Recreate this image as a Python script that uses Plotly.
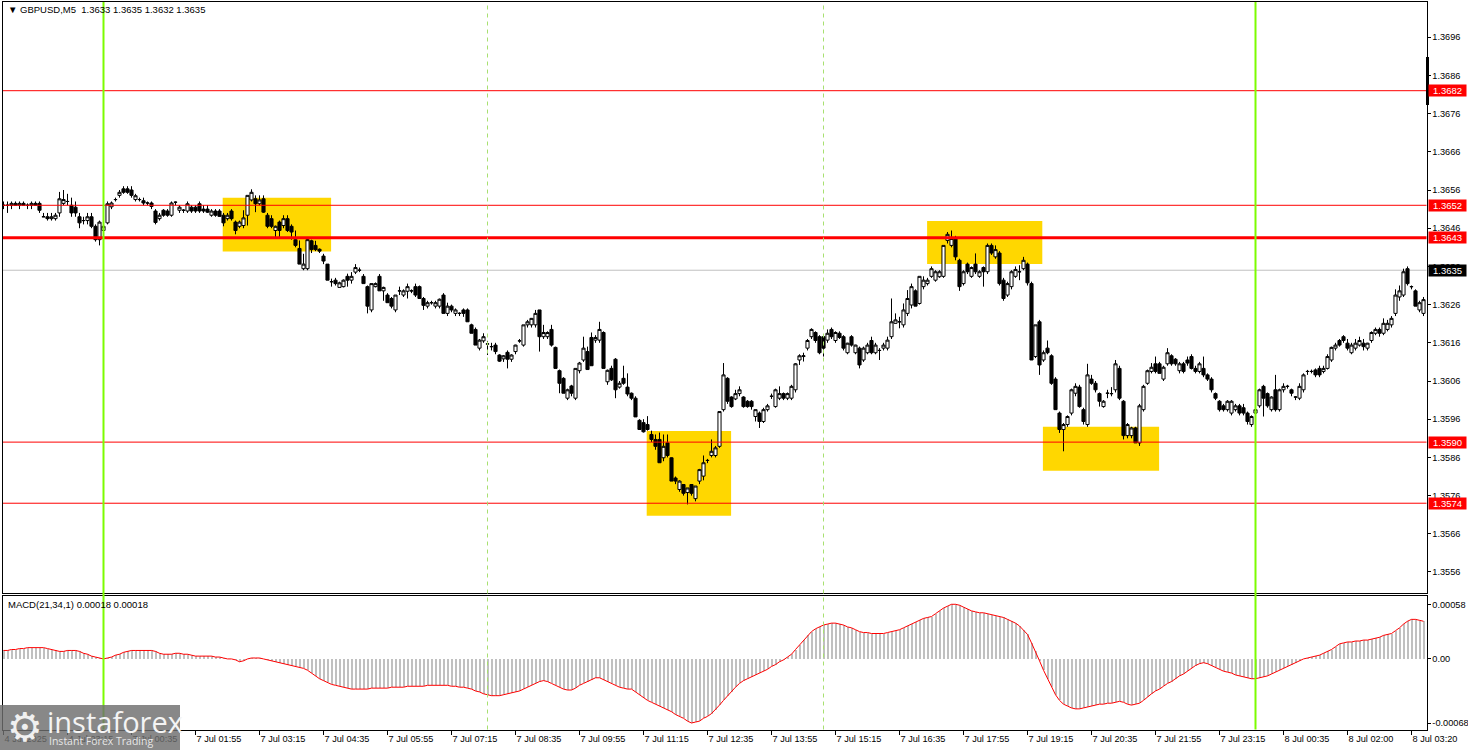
import plotly.graph_objects as go

# ---------------- data (GBPUSD M5, bar 0 = 4 Jul 21:55) ----------------
opens = [
    1.36520, 1.36520, 1.36520, 1.36525, 1.36520, 1.36525, 1.36520, 1.36520, 1.36525, 1.36525,
    1.36490, 1.36490, 1.36485, 1.36485, 1.36500, 1.36525, 1.36530, 1.36520, 1.36515, 1.36490,
    1.36480, 1.36480, 1.36490, 1.36465, 1.36430, 1.36454, 1.36474, 1.36516, 1.36535, 1.36546,
    1.36563, 1.36563, 1.36560, 1.36535, 1.36535, 1.36532, 1.36526, 1.36526, 1.36505, 1.36485,
    1.36507, 1.36505, 1.36494, 1.36528, 1.36507, 1.36507, 1.36505, 1.36515, 1.36515, 1.36524,
    1.36510, 1.36510, 1.36494, 1.36505, 1.36505, 1.36494, 1.36485, 1.36505, 1.36476, 1.36465,
    1.36467, 1.36494, 1.36534, 1.36537, 1.36524, 1.36537, 1.36494, 1.36485, 1.36454, 1.36476,
    1.36467, 1.36485, 1.36465, 1.36430, 1.36407, 1.36354, 1.36354, 1.36427, 1.36415, 1.36405,
    1.36387, 1.36366, 1.36320, 1.36324, 1.36305, 1.36307, 1.36334, 1.36324, 1.36345, 1.36350,
    1.36334, 1.36307, 1.36246, 1.36307, 1.36334, 1.36296, 1.36285, 1.36276, 1.36246, 1.36296,
    1.36285, 1.36295, 1.36296, 1.36307, 1.36307, 1.36276, 1.36256, 1.36265, 1.36256, 1.36256,
    1.36285, 1.36237, 1.36256, 1.36237, 1.36237, 1.36246, 1.36246, 1.36207, 1.36195, 1.36146,
    1.36165, 1.36157, 1.36150, 1.36154, 1.36128, 1.36118, 1.36135, 1.36117, 1.36137, 1.36165,
    1.36154, 1.36207, 1.36207, 1.36207, 1.36246, 1.36176, 1.36176, 1.36195, 1.36148, 1.36087,
    1.36067, 1.36015, 1.36047, 1.36015, 1.36087, 1.36115, 1.36137, 1.36174, 1.36167, 1.36167,
    1.36187, 1.36058, 1.36093, 1.36117, 1.36044, 1.36067, 1.36044, 1.36028, 1.36015, 1.35957,
    1.35951, 1.35946, 1.35920, 1.35907, 1.35907, 1.35859, 1.35898, 1.35859, 1.35806, 1.35776,
    1.35789, 1.35768, 1.35789, 1.35752, 1.35798, 1.35811, 1.35852, 1.35865, 1.35865, 1.35889,
    1.35985, 1.36067, 1.36018, 1.36013, 1.36027, 1.36018, 1.36007, 1.36007, 1.35967, 1.35976,
    1.35954, 1.35985, 1.36020, 1.35993, 1.36015, 1.36027, 1.36015, 1.36015, 1.36037, 1.36115,
    1.36124, 1.36146, 1.36176, 1.36187, 1.36176, 1.36176, 1.36167, 1.36195, 1.36166, 1.36185,
    1.36176, 1.36134, 1.36176, 1.36134, 1.36146, 1.36115, 1.36134, 1.36166, 1.36134, 1.36140,
    1.36146, 1.36146, 1.36176, 1.36211, 1.36215, 1.36207, 1.36237, 1.36259, 1.36296, 1.36263,
    1.36307, 1.36315, 1.36334, 1.36324, 1.36333, 1.36334, 1.36428, 1.36415, 1.36433, 1.36376,
    1.36315, 1.36366, 1.36334, 1.36366, 1.36334, 1.36357, 1.36346, 1.36415, 1.36385, 1.36395,
    1.36324, 1.36285, 1.36307, 1.36334, 1.36346, 1.36354, 1.36366, 1.36315, 1.36124, 1.36215,
    1.36115, 1.36146, 1.36126, 1.36065, 1.35976, 1.35933, 1.35946, 1.35976, 1.36028, 1.36044,
    1.35985, 1.35946, 1.36065, 1.36054, 1.36027, 1.35993, 1.36028, 1.36027, 1.36037, 1.36093,
    1.36007, 1.35917, 1.35917, 1.35937, 1.35898, 1.35985, 1.36054, 1.36085, 1.36105, 1.36105,
    1.36065, 1.36105, 1.36126, 1.36117, 1.36087, 1.36105, 1.36115, 1.36124, 1.36093, 1.36085,
    1.36093, 1.36076, 1.36065, 1.36027, 1.36007, 1.35995, 1.35985, 1.35976, 1.35985, 1.35995,
    1.35990, 1.35976, 1.35946, 1.35976, 1.35995, 1.36046, 1.36027, 1.35985, 1.36037, 1.35985,
    1.36037, 1.36046, 1.36037, 1.36018, 1.36015, 1.36037, 1.36085, 1.36085, 1.36089, 1.36093,
    1.36085, 1.36093, 1.36115, 1.36146, 1.36166, 1.36176, 1.36159, 1.36134, 1.36146, 1.36154,
    1.36159, 1.36146, 1.36166, 1.36185, 1.36195, 1.36185, 1.36195, 1.36207, 1.36237, 1.36280,
    1.36285, 1.36354, 1.36307, 1.36296, 1.36246, 1.36237,
]
highs = [
    1.36530, 1.36530, 1.36530, 1.36530, 1.36530, 1.36530, 1.36525, 1.36530, 1.36530, 1.36530,
    1.36500, 1.36500, 1.36500, 1.36500, 1.36555, 1.36560, 1.36550, 1.36540, 1.36530, 1.36500,
    1.36490, 1.36500, 1.36500, 1.36470, 1.36480, 1.36470, 1.36530, 1.36530, 1.36540, 1.36560,
    1.36570, 1.36570, 1.36570, 1.36550, 1.36540, 1.36540, 1.36530, 1.36530, 1.36510, 1.36500,
    1.36510, 1.36510, 1.36530, 1.36530, 1.36520, 1.36510, 1.36530, 1.36520, 1.36520, 1.36530,
    1.36520, 1.36520, 1.36510, 1.36510, 1.36510, 1.36500, 1.36500, 1.36510, 1.36480, 1.36480,
    1.36507, 1.36546, 1.36562, 1.36546, 1.36546, 1.36546, 1.36500, 1.36494, 1.36467, 1.36480,
    1.36494, 1.36494, 1.36470, 1.36454, 1.36428, 1.36393, 1.36437, 1.36430, 1.36427, 1.36407,
    1.36393, 1.36366, 1.36328, 1.36330, 1.36320, 1.36326, 1.36341, 1.36345, 1.36366, 1.36357,
    1.36340, 1.36310, 1.36315, 1.36318, 1.36340, 1.36307, 1.36290, 1.36280, 1.36285, 1.36307,
    1.36300, 1.36315, 1.36300, 1.36315, 1.36310, 1.36280, 1.36270, 1.36270, 1.36270, 1.36276,
    1.36290, 1.36265, 1.36260, 1.36250, 1.36240, 1.36250, 1.36250, 1.36210, 1.36200, 1.36170,
    1.36185, 1.36165, 1.36160, 1.36160, 1.36130, 1.36128, 1.36140, 1.36130, 1.36155, 1.36170,
    1.36207, 1.36220, 1.36225, 1.36246, 1.36246, 1.36207, 1.36190, 1.36207, 1.36150, 1.36090,
    1.36070, 1.36040, 1.36050, 1.36093, 1.36110, 1.36176, 1.36150, 1.36187, 1.36180, 1.36215,
    1.36190, 1.36090, 1.36100, 1.36120, 1.36060, 1.36100, 1.36080, 1.36030, 1.36020, 1.35960,
    1.35960, 1.35968, 1.35930, 1.35920, 1.35925, 1.35920, 1.35920, 1.35860, 1.35810, 1.35800,
    1.35790, 1.35780, 1.35790, 1.35785, 1.35830, 1.35865, 1.35856, 1.35907, 1.35890, 1.35980,
    1.36107, 1.36070, 1.36020, 1.36037, 1.36046, 1.36020, 1.36010, 1.36010, 1.35985, 1.35980,
    1.35990, 1.36000, 1.36027, 1.36040, 1.36046, 1.36030, 1.36030, 1.36050, 1.36107, 1.36130,
    1.36134, 1.36170, 1.36198, 1.36190, 1.36180, 1.36180, 1.36195, 1.36200, 1.36190, 1.36190,
    1.36180, 1.36160, 1.36180, 1.36155, 1.36150, 1.36150, 1.36160, 1.36176, 1.36160, 1.36146,
    1.36160, 1.36176, 1.36276, 1.36237, 1.36228, 1.36263, 1.36298, 1.36315, 1.36300, 1.36334,
    1.36334, 1.36330, 1.36360, 1.36350, 1.36350, 1.36415, 1.36450, 1.36454, 1.36440, 1.36380,
    1.36350, 1.36370, 1.36360, 1.36394, 1.36350, 1.36360, 1.36420, 1.36420, 1.36415, 1.36400,
    1.36330, 1.36320, 1.36350, 1.36360, 1.36363, 1.36385, 1.36370, 1.36320, 1.36207, 1.36220,
    1.36140, 1.36166, 1.36130, 1.36070, 1.35980, 1.35950, 1.35970, 1.36040, 1.36054, 1.36050,
    1.35990, 1.36105, 1.36076, 1.36060, 1.36030, 1.36010, 1.36037, 1.36044, 1.36115, 1.36100,
    1.36010, 1.35950, 1.35940, 1.35940, 1.36000, 1.36050, 1.36090, 1.36107, 1.36124, 1.36110,
    1.36100, 1.36146, 1.36130, 1.36120, 1.36110, 1.36110, 1.36124, 1.36130, 1.36100, 1.36110,
    1.36124, 1.36080, 1.36070, 1.36030, 1.36010, 1.36000, 1.36010, 1.36010, 1.36000, 1.36000,
    1.36000, 1.35980, 1.35970, 1.35990, 1.36040, 1.36050, 1.36030, 1.36020, 1.36076, 1.36040,
    1.36054, 1.36050, 1.36040, 1.36020, 1.36054, 1.36080, 1.36089, 1.36090, 1.36093, 1.36100,
    1.36100, 1.36130, 1.36150, 1.36160, 1.36170, 1.36180, 1.36170, 1.36160, 1.36170, 1.36176,
    1.36170, 1.36160, 1.36190, 1.36200, 1.36200, 1.36224, 1.36220, 1.36230, 1.36300, 1.36310,
    1.36354, 1.36360, 1.36310, 1.36300, 1.36270, 1.36280,
]
lows = [
    1.36510, 1.36500, 1.36510, 1.36520, 1.36510, 1.36520, 1.36510, 1.36510, 1.36520, 1.36500,
    1.36490, 1.36480, 1.36480, 1.36480, 1.36490, 1.36520, 1.36520, 1.36490, 1.36490, 1.36460,
    1.36470, 1.36470, 1.36460, 1.36425, 1.36415, 1.36450, 1.36470, 1.36510, 1.36530, 1.36540,
    1.36550, 1.36550, 1.36540, 1.36530, 1.36530, 1.36520, 1.36520, 1.36510, 1.36470, 1.36480,
    1.36490, 1.36490, 1.36490, 1.36520, 1.36500, 1.36500, 1.36500, 1.36500, 1.36500, 1.36500,
    1.36500, 1.36500, 1.36490, 1.36490, 1.36490, 1.36465, 1.36480, 1.36480, 1.36444, 1.36460,
    1.36460, 1.36467, 1.36530, 1.36502, 1.36520, 1.36500, 1.36460, 1.36460, 1.36433, 1.36433,
    1.36460, 1.36450, 1.36430, 1.36410, 1.36366, 1.36350, 1.36350, 1.36395, 1.36400, 1.36395,
    1.36366, 1.36324, 1.36307, 1.36310, 1.36305, 1.36305, 1.36307, 1.36315, 1.36340, 1.36345,
    1.36315, 1.36237, 1.36240, 1.36305, 1.36296, 1.36270, 1.36265, 1.36250, 1.36240, 1.36285,
    1.36280, 1.36276, 1.36290, 1.36280, 1.36276, 1.36246, 1.36250, 1.36260, 1.36250, 1.36250,
    1.36237, 1.36230, 1.36240, 1.36230, 1.36230, 1.36228, 1.36215, 1.36185, 1.36154, 1.36140,
    1.36160, 1.36128, 1.36140, 1.36130, 1.36110, 1.36110, 1.36093, 1.36110, 1.36130, 1.36160,
    1.36150, 1.36200, 1.36200, 1.36200, 1.36137, 1.36170, 1.36170, 1.36150, 1.36093, 1.36028,
    1.36028, 1.36010, 1.36020, 1.36010, 1.36080, 1.36110, 1.36090, 1.36100, 1.36160, 1.36160,
    1.36093, 1.36050, 1.36060, 1.36015, 1.36040, 1.36050, 1.36020, 1.36010, 1.35966, 1.35933,
    1.35925, 1.35930, 1.35900, 1.35880, 1.35846, 1.35850, 1.35860, 1.35798, 1.35790, 1.35770,
    1.35760, 1.35737, 1.35760, 1.35745, 1.35790, 1.35800, 1.35845, 1.35860, 1.35860, 1.35885,
    1.35980, 1.36000, 1.35990, 1.36010, 1.36020, 1.35990, 1.35990, 1.35985, 1.35954, 1.35937,
    1.35950, 1.35980, 1.36013, 1.35990, 1.36010, 1.36010, 1.36010, 1.36010, 1.36030, 1.36102,
    1.36111, 1.36140, 1.36170, 1.36160, 1.36130, 1.36124, 1.36160, 1.36170, 1.36160, 1.36170,
    1.36140, 1.36130, 1.36150, 1.36130, 1.36093, 1.36110, 1.36130, 1.36130, 1.36130, 1.36115,
    1.36140, 1.36140, 1.36170, 1.36210, 1.36198, 1.36200, 1.36230, 1.36250, 1.36256, 1.36260,
    1.36300, 1.36310, 1.36330, 1.36320, 1.36330, 1.36330, 1.36420, 1.36410, 1.36376, 1.36296,
    1.36310, 1.36340, 1.36330, 1.36340, 1.36330, 1.36307, 1.36340, 1.36390, 1.36380, 1.36310,
    1.36270, 1.36280, 1.36300, 1.36330, 1.36324, 1.36350, 1.36310, 1.36115, 1.36120, 1.36076,
    1.36110, 1.36130, 1.36050, 1.35985, 1.35924, 1.35876, 1.35940, 1.35970, 1.36020, 1.35990,
    1.35946, 1.35940, 1.36050, 1.36030, 1.35993, 1.35990, 1.36015, 1.36020, 1.36030, 1.36010,
    1.35907, 1.35910, 1.35910, 1.35898, 1.35890, 1.35980, 1.36050, 1.36080, 1.36080, 1.36080,
    1.36060, 1.36100, 1.36100, 1.36100, 1.36080, 1.36080, 1.36100, 1.36090, 1.36080, 1.36080,
    1.36070, 1.36060, 1.36030, 1.36010, 1.35980, 1.35980, 1.35980, 1.35970, 1.35980, 1.35970,
    1.35970, 1.35946, 1.35940, 1.35970, 1.35990, 1.35967, 1.35990, 1.35980, 1.35980, 1.35980,
    1.36030, 1.36040, 1.36020, 1.36010, 1.36010, 1.36030, 1.36076, 1.36080, 1.36070, 1.36070,
    1.36080, 1.36090, 1.36110, 1.36140, 1.36150, 1.36160, 1.36140, 1.36130, 1.36140, 1.36150,
    1.36140, 1.36140, 1.36160, 1.36180, 1.36176, 1.36180, 1.36190, 1.36200, 1.36230, 1.36270,
    1.36280, 1.36310, 1.36300, 1.36256, 1.36240, 1.36230,
]
closes = [
    1.36520, 1.36520, 1.36525, 1.36520, 1.36525, 1.36520, 1.36520, 1.36525, 1.36520, 1.36507,
    1.36490, 1.36485, 1.36490, 1.36494, 1.36537, 1.36535, 1.36530, 1.36500, 1.36500, 1.36474,
    1.36480, 1.36490, 1.36465, 1.36430, 1.36476, 1.36465, 1.36524, 1.36526, 1.36535, 1.36554,
    1.36554, 1.36554, 1.36546, 1.36545, 1.36535, 1.36526, 1.36526, 1.36517, 1.36475, 1.36494,
    1.36494, 1.36494, 1.36526, 1.36528, 1.36515, 1.36507, 1.36524, 1.36505, 1.36505, 1.36505,
    1.36505, 1.36502, 1.36505, 1.36494, 1.36491, 1.36474, 1.36494, 1.36485, 1.36454, 1.36476,
    1.36487, 1.36546, 1.36554, 1.36524, 1.36534, 1.36502, 1.36465, 1.36465, 1.36465, 1.36454,
    1.36485, 1.36454, 1.36450, 1.36415, 1.36366, 1.36366, 1.36430, 1.36404, 1.36404, 1.36400,
    1.36374, 1.36324, 1.36320, 1.36315, 1.36317, 1.36324, 1.36324, 1.36334, 1.36357, 1.36350,
    1.36315, 1.36256, 1.36315, 1.36315, 1.36296, 1.36305, 1.36265, 1.36256, 1.36285, 1.36296,
    1.36296, 1.36307, 1.36296, 1.36285, 1.36276, 1.36258, 1.36265, 1.36265, 1.36265, 1.36274,
    1.36237, 1.36256, 1.36246, 1.36246, 1.36237, 1.36237, 1.36215, 1.36185, 1.36154, 1.36167,
    1.36176, 1.36157, 1.36150, 1.36137, 1.36112, 1.36126, 1.36117, 1.36128, 1.36154, 1.36165,
    1.36207, 1.36215, 1.36224, 1.36237, 1.36176, 1.36187, 1.36187, 1.36154, 1.36093, 1.36054,
    1.36028, 1.36037, 1.36028, 1.36093, 1.36107, 1.36146, 1.36090, 1.36100, 1.36174, 1.36195,
    1.36093, 1.36088, 1.36063, 1.36037, 1.36054, 1.36054, 1.36026, 1.36015, 1.35966, 1.35933,
    1.35927, 1.35933, 1.35907, 1.35889, 1.35846, 1.35889, 1.35865, 1.35798, 1.35798, 1.35798,
    1.35766, 1.35780, 1.35766, 1.35785, 1.35828, 1.35846, 1.35852, 1.35876, 1.35885, 1.35980,
    1.36076, 1.36007, 1.35993, 1.36027, 1.36037, 1.35993, 1.35993, 1.35993, 1.35985, 1.35954,
    1.35985, 1.35995, 1.36020, 1.36037, 1.36027, 1.36015, 1.36027, 1.36046, 1.36105, 1.36126,
    1.36126, 1.36166, 1.36195, 1.36166, 1.36134, 1.36146, 1.36185, 1.36176, 1.36187, 1.36174,
    1.36146, 1.36159, 1.36154, 1.36154, 1.36102, 1.36146, 1.36154, 1.36134, 1.36154, 1.36140,
    1.36154, 1.36167, 1.36215, 1.36220, 1.36215, 1.36246, 1.36276, 1.36307, 1.36256, 1.36334,
    1.36324, 1.36324, 1.36354, 1.36346, 1.36346, 1.36415, 1.36444, 1.36433, 1.36385, 1.36307,
    1.36346, 1.36346, 1.36357, 1.36346, 1.36346, 1.36346, 1.36415, 1.36395, 1.36404, 1.36315,
    1.36276, 1.36315, 1.36346, 1.36352, 1.36346, 1.36376, 1.36317, 1.36115, 1.36207, 1.36102,
    1.36134, 1.36134, 1.36054, 1.35985, 1.35933, 1.35946, 1.35967, 1.36037, 1.36046, 1.35993,
    1.35954, 1.36076, 1.36054, 1.36037, 1.36007, 1.36007, 1.36028, 1.36027, 1.36105, 1.36015,
    1.35917, 1.35946, 1.35937, 1.35898, 1.35995, 1.36046, 1.36087, 1.36096, 1.36085, 1.36080,
    1.36096, 1.36134, 1.36105, 1.36105, 1.36105, 1.36085, 1.36107, 1.36093, 1.36085, 1.36105,
    1.36076, 1.36065, 1.36037, 1.36015, 1.35985, 1.35985, 1.36007, 1.36007, 1.35995, 1.35976,
    1.35976, 1.35954, 1.35967, 1.35985, 1.36037, 1.36015, 1.35995, 1.36018, 1.35985, 1.36037,
    1.36046, 1.36046, 1.36028, 1.36018, 1.36046, 1.36076, 1.36085, 1.36085, 1.36076, 1.36076,
    1.36093, 1.36124, 1.36148, 1.36154, 1.36154, 1.36166, 1.36146, 1.36154, 1.36159, 1.36166,
    1.36150, 1.36159, 1.36187, 1.36195, 1.36185, 1.36211, 1.36211, 1.36224, 1.36285, 1.36296,
    1.36346, 1.36315, 1.36307, 1.36256, 1.36265, 1.36273,
]
# MACD(21,34,1) main line, in points (1 point = 0.00001)
macd_points = [
    9, 9, 10, 10, 11, 11, 12, 12, 12, 12,
    12, 11, 10, 9, 8, 8, 9, 9, 9, 8,
    6, 5, 3, 2, 1, 0, 1, 2, 4, 5,
    7, 8, 9, 9, 9, 9, 9, 9, 8, 6,
    5, 5, 5, 6, 6, 5, 5, 4, 3, 3,
    3, 3, 3, 2, 2, 1, 0, 0, -1, -3,
    -2, 0, 1, 1, 1, 0, -1, -2, -3, -4,
    -5, -6, -7, -8, -9, -10, -12, -15, -18, -21,
    -23, -25, -27, -28, -29, -30, -31, -32, -32, -32,
    -32, -32, -31, -31, -31, -31, -31, -30, -30, -30,
    -30, -29, -29, -29, -29, -29, -28, -28, -28, -28,
    -28, -28, -29, -29, -30, -30, -31, -32, -34, -35,
    -37, -38, -39, -39, -39, -38, -37, -36, -35, -34,
    -32, -30, -28, -26, -24, -23, -24, -26, -28, -30,
    -32, -33, -33, -31, -28, -26, -24, -22, -20, -20,
    -22, -24, -26, -28, -30, -31, -32, -32, -35, -38,
    -41, -44, -46, -48, -50, -52, -54, -56, -59, -61,
    -63, -66, -68, -67, -66, -63, -61, -58, -54, -49,
    -44, -39, -35, -30, -26, -23, -21, -19, -17, -15,
    -13, -11, -8, -6, -3, -1, 2, 5, 10, 15,
    20, 25, 29, 32, 34, 36, 37, 38, 38, 37,
    36, 34, 33, 31, 29, 28, 28, 27, 27, 27,
    27, 28, 29, 30, 31, 33, 35, 37, 39, 41,
    43, 44, 45, 48, 51, 54, 56, 58, 58, 57,
    55, 53, 51, 50, 49, 49, 48, 47, 46, 45,
    44, 42, 40, 38, 35, 31, 26, 17, 8, -2,
    -12, -21, -30, -38, -44, -48, -50, -52, -53, -53,
    -52, -51, -50, -49, -48, -48, -47, -47, -46, -45,
    -46, -48, -49, -48, -47, -44, -40, -37, -34, -32,
    -29, -26, -24, -21, -18, -16, -13, -10, -7, -5,
    -4, -5, -7, -9, -11, -13, -14, -15, -17, -18,
    -19, -20, -21, -21, -20, -19, -18, -16, -14, -12,
    -10, -8, -6, -4, -2, 0, 1, 2, 3, 4,
    6, 8, 10, 13, 16, 17, 18, 18, 19, 19,
    20, 20, 21, 22, 23, 25, 26, 27, 30, 33,
    37, 40, 42, 42, 41, 40,
]
macd = [p / 100000 for p in macd_points]

tick_bars = list(range(0, 353, 16))
tick_labels = [
    "4 Jul 2025", "4 Jul 23:15", "7 Jul 00:35", "7 Jul 01:55", "7 Jul 03:15",
    "7 Jul 04:35", "7 Jul 05:55", "7 Jul 07:15", "7 Jul 08:35", "7 Jul 09:55",
    "7 Jul 11:15", "7 Jul 12:35", "7 Jul 13:55", "7 Jul 15:15", "7 Jul 16:35",
    "7 Jul 17:55", "7 Jul 19:15", "7 Jul 20:35", "7 Jul 21:55", "7 Jul 23:15",
    "8 Jul 00:35", "8 Jul 02:00", "8 Jul 03:20",
]
price_ticks = [1.3556, 1.3566, 1.3576, 1.3586, 1.3596, 1.3606, 1.3616,
               1.3626, 1.3636, 1.3646, 1.3656, 1.3666, 1.3676, 1.3686, 1.3696]
macd_ticks = [0.00058, 0.0, -0.00068]
macd_tick_labels = ["0.00058", "0.00", "-0.00068"]

thin_levels = [1.3682, 1.3652, 1.3590, 1.3574]
thick_level = 1.36435
thick_level_label = "1.3643"
current_price = 1.3635

# zones: (first bar, last bar, top price, bottom price)
zones = [
    (54.8, 81.9, 1.36540, 1.36399),
    (160.8, 181.9, 1.35929, 1.35707),
    (230.9, 259.7, 1.36479, 1.36366),
    (259.85, 288.9, 1.35940, 1.35825),
]
day_lines = [25, 313]          # 7 Jul 00:00, 8 Jul 00:00
session_lines = [121, 205]     # 7 Jul 08:00, 7 Jul 15:00

assert len(opens) == len(highs) == len(lows) == len(closes) == len(macd_points) == 356, (
    len(opens), len(highs), len(lows), len(closes), len(macd_points))

# ---------------- layout geometry ----------------
W, H = 1468, 750
FONT = "Liberation Sans, Arial, sans-serif"
TICK_FONT = dict(family=FONT, size=9.2, color="black")


def fx(px):
    return px / W


def fy(py):
    return 1 - py / H


X0, X1 = 3, 1426.5
MAIN_T, MAIN_B = 2, 593
SUB_T, SUB_B = 596, 729.5
bars = list(range(len(closes)))
xr = [(X0 - 3.5) / 4, (X1 - 3.5) / 4]

fig = go.Figure()
fig.add_trace(go.Candlestick(
    x=bars, open=opens, high=highs, low=lows, close=closes,
    increasing=dict(line=dict(color="black", width=1), fillcolor="white"),
    decreasing=dict(line=dict(color="black", width=1), fillcolor="black"),
    whiskerwidth=0, showlegend=False, hoverinfo="skip", xaxis="x", yaxis="y",
))
fig.add_trace(go.Bar(
    x=bars, y=macd, width=0.5, marker=dict(color="#C0C0C0", line=dict(width=0)),
    showlegend=False, hoverinfo="skip", xaxis="x2", yaxis="y2",
))
fig.add_trace(go.Scatter(
    x=bars, y=macd, mode="lines", line=dict(color="#FF0000", width=1),
    showlegend=False, hoverinfo="skip", xaxis="x2", yaxis="y2",
))

shapes = []
for b0, b1, top, bot in zones:
    shapes.append(dict(type="rect", xref="x", yref="y", x0=b0, x1=b1, y0=bot, y1=top,
                       fillcolor="#FFD700", line=dict(width=0), layer="below"))
shapes.append(dict(type="line", xref="paper", yref="y", x0=fx(X0), x1=fx(X1),
                   y0=current_price, y1=current_price,
                   line=dict(color="#C0C0C0", width=1), layer="below"))
for lv in thin_levels:
    shapes.append(dict(type="line", xref="paper", yref="y", x0=fx(X0), x1=fx(X1),
                       y0=lv, y1=lv, line=dict(color="#FF0000", width=1), layer="above"))
shapes.append(dict(type="line", xref="paper", yref="y", x0=fx(X0), x1=fx(X1),
                   y0=thick_level, y1=thick_level, line=dict(color="#FF0000", width=3),
                   layer="above"))
for b in session_lines:
    shapes.append(dict(type="line", xref="x", yref="paper", x0=b, x1=b,
                       y0=fy(SUB_B), y1=fy(MAIN_T),
                       line=dict(color="#A8E070", width=1, dash="4px,4px"), layer="above"))
for b in day_lines:
    shapes.append(dict(type="line", xref="x", yref="paper", x0=b, x1=b,
                       y0=fy(SUB_B), y1=fy(MAIN_T),
                       line=dict(color="#7CFC00", width=2), layer="above"))
# black marker on the price scale
shapes.append(dict(type="rect", xref="paper", yref="paper", x0=fx(1426), x1=fx(1429),
                   y0=fy(105), y1=fy(57), fillcolor="black", line=dict(width=0), layer="above"))
# watermark box
shapes.append(dict(type="rect", xref="paper", yref="paper", x0=0, x1=fx(180),
                   y0=0, y1=fy(705), fillcolor="rgba(110,110,110,0.82)",
                   line=dict(width=0), layer="above"))

annotations = []
nb = "\u00a0"
annotations.append(dict(xref="paper", yref="paper", x=fx(6), y=fy(10), xanchor="left",
                        yanchor="middle", showarrow=False,
                        text="▼" + nb + "GBPUSD,M5" + nb * 2 + "1.3633 1.3635 1.3632 1.3635",
                        font=dict(family=FONT, size=9.5, color="black")))
annotations.append(dict(xref="paper", yref="paper", x=fx(6), y=fy(604), xanchor="left",
                        yanchor="middle", showarrow=False,
                        text="MACD(21,34,1) 0.00018 0.00018",
                        font=dict(family=FONT, size=9.5, color="black")))
for lv in thin_levels:
    annotations.append(dict(xref="paper", yref="y", x=fx(1428), y=lv, xanchor="left",
                            yanchor="middle", showarrow=False, text=f"{lv:.4f}",
                            bgcolor="#FF0000", borderpad=0, width=37, height=11,
                            font=dict(family=FONT, size=9.5, color="white")))
annotations.append(dict(xref="paper", yref="y", x=fx(1428), y=thick_level, xanchor="left",
                        yanchor="middle", showarrow=False, text=thick_level_label,
                        bgcolor="#FF0000", borderpad=0, width=37, height=11,
                        font=dict(family=FONT, size=9.5, color="white")))
annotations.append(dict(xref="paper", yref="y", x=fx(1428), y=current_price, xanchor="left",
                        yanchor="middle", showarrow=False, text=f"{current_price:.4f}",
                        bgcolor="black", borderpad=0, width=37, height=11,
                        font=dict(family=FONT, size=9.5, color="white")))
# watermark texts
annotations.append(dict(xref="paper", yref="paper", x=fx(5), y=fy(727), xanchor="left",
                        yanchor="middle", showarrow=False, text="⚙",
                        font=dict(family="DejaVu Sans", size=40, color="#F0F0F0")))
annotations.append(dict(xref="paper", yref="paper", x=fx(45), y=fy(721), xanchor="left",
                        yanchor="middle", showarrow=False, text="instaforex",
                        font=dict(family="Open Sans, Lato, sans-serif", size=29, color="#F4F4F4")))
annotations.append(dict(xref="paper", yref="paper", x=fx(47), y=fy(741), xanchor="left",
                        yanchor="middle", showarrow=False, text="Instant Forex Trading",
                        font=dict(family="Open Sans, sans-serif", size=10.5, color="#E6E6E6")))

axis_common = dict(showgrid=False, zeroline=False, showline=True, mirror=True,
                   linecolor="black", linewidth=1, automargin=False, fixedrange=True)

fig.update_layout(
    width=W, height=H, margin=dict(l=0, r=0, t=0, b=0),
    paper_bgcolor="white", plot_bgcolor="white", showlegend=False, bargap=0,
    boxgap=0.12, boxgroupgap=0.12,
    font=dict(family=FONT, size=9.5, color="black"),
    xaxis=dict(domain=[fx(X0), fx(X1)], range=xr, anchor="y", showticklabels=False,
               ticks="", rangeslider=dict(visible=False), **axis_common),
    yaxis=dict(domain=[fy(MAIN_B), fy(MAIN_T)], range=[1.35505, 1.370522], anchor="x",
               side="right", tickvals=price_ticks, ticktext=[f"{v:.4f}" for v in price_ticks],
               ticks="outside", ticklen=3, tickcolor="black", tickfont=TICK_FONT,
               **axis_common),
    xaxis2=dict(domain=[fx(X0), fx(X1)], range=xr, anchor="y2", matches="x",
                tickvals=tick_bars, ticktext=tick_labels, ticks="outside", ticklen=4,
                tickcolor="black", ticklabelposition="outside right", tickfont=TICK_FONT,
                **axis_common),
    yaxis2=dict(domain=[fy(SUB_B), fy(SUB_T)], range=[-0.000749, 0.000668], anchor="x2",
                side="right", tickvals=macd_ticks, ticktext=macd_tick_labels,
                ticks="outside", ticklen=3, tickcolor="black", tickfont=TICK_FONT,
                **axis_common),
    shapes=shapes, annotations=annotations,
)

fig.write_html(
    "out.html",
    config={"displayModeBar": False, "staticPlot": True},
    post_script="document.body.style.margin='0';document.body.style.overflow='hidden';",
)
